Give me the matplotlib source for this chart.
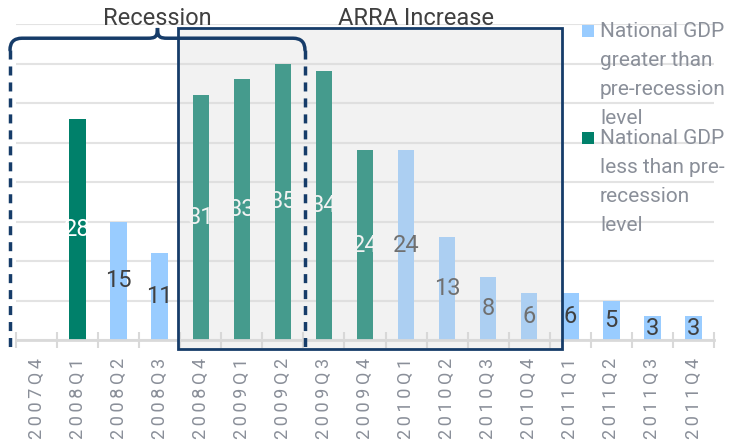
import numpy as np
import matplotlib.pyplot as plt
from matplotlib.patches import Rectangle, PathPatch
from matplotlib.path import Path
from matplotlib.transforms import Affine2D

plt.rcParams['font.family'] = ['Roboto', 'DejaVu Sans']

quarters = ['2007Q4', '2008Q1', '2008Q2', '2008Q3', '2008Q4', '2009Q1',
            '2009Q2', '2009Q3', '2009Q4', '2010Q1', '2010Q2', '2010Q3',
            '2010Q4', '2011Q1', '2011Q2', '2011Q3', '2011Q4']
values = [0, 28, 15, 11, 31, 33, 35, 34, 24, 24, 13, 8, 6, 6, 5, 3, 3]
# True -> national GDP still below the pre-recession level
below_pre = [False, True, False, False, True, True, True, True, True,
             False, False, False, False, False, False, False, False]
legend_labels = ['National GDP\ngreater than\npre-recession\nlevel',
                 'National GDP\nless than pre-\nrecession\nlevel']

GREEN = '#00806a'
BLUE = '#99ccff'
NAVY = '#163c69'
GRID = '#e3e3e3'
TICK_GRAY = '#8a8f99'
W, H = 730, 444

fig = plt.figure(figsize=(W / 100, H / 100), dpi=100)
ax = fig.add_axes([16 / W, 104 / H, 698 / W, 316 / H])
# pixel coords measured from the top-left corner of the figure
px = Affine2D().scale(1 / W, -1 / H).translate(0, 1) + fig.transFigure

x = np.arange(len(quarters))
colors = [GREEN if b else BLUE for b in below_pre]
ax.bar(x, values, width=0.4, color=colors, zorder=2)

for xi, v, b in zip(x, values, below_pre):
    if v == 0:
        continue
    ax.text(xi, v / 2, str(v), ha='center', va='center', fontsize=17,
            color='white' if b else '#404040', zorder=3)

ax.set_xlim(-0.5, len(quarters) - 0.5)
ax.set_ylim(0, 40)
ax.set_yticks(np.arange(0, 41, 5))
ax.yaxis.grid(True, color=GRID, lw=1.5, zorder=0)
ax.set_axisbelow(True)
ax.tick_params(axis='y', length=0, labelleft=False)
for s in ['top', 'right', 'left']:
    ax.spines[s].set_visible(False)
ax.spines['bottom'].set_color('#d9d9d9')
ax.spines['bottom'].set_linewidth(2)

ax.set_xticks(x)
# the source spreads the letters of the quarter labels a bit
ax.set_xticklabels(['\u2009'.join(q) for q in quarters], rotation=90,
                   fontsize=13, color=TICK_GRAY)
ax.set_xticks(np.arange(-0.5, len(quarters), 1), minor=True)
ax.tick_params(axis='x', which='major', length=0, pad=13)
ax.tick_params(axis='x', which='minor', direction='inout', length=11,
               width=1.5, color='#d9d9d9')

# ARRA box: translucent grey wash over the bars + navy outline
box_x0, box_x1, box_y0, box_y1 = 3.45, 12.8, -1.1, 39.5
ax.add_patch(Rectangle((box_x0, box_y0), box_x1 - box_x0, box_y1 - box_y0,
                       facecolor='#d7d7d7', alpha=0.32, edgecolor='none',
                       zorder=4, clip_on=False))
ax.add_patch(Rectangle((box_x0, box_y0), box_x1 - box_x0, box_y1 - box_y0,
                       facecolor='none', edgecolor=NAVY, lw=2,
                       zorder=5, clip_on=False))
ax.text(9.24, 39.87, 'ARRA Increase', ha='center', va='baseline',
        fontsize=17, color='#404040', zorder=6)

# Recession bracket
xl, xr, ytop, ytip, ybot = -0.646, 6.538, 38.2, 39.5, -1.0
xm = (xl + xr) / 2
rx, ry = 0.29, 1.5
verts = [(xl, ytop - ry), (xl, ytop), (xl + rx, ytop),
         (xm - 0.25, ytop),
         (xm - 0.05, ytop), (xm, ytop + 0.15), (xm, ytip),
         (xm, ytop + 0.15), (xm + 0.05, ytop), (xm + 0.25, ytop),
         (xr - rx, ytop), (xr, ytop), (xr, ytop - ry)]
codes = [Path.MOVETO, Path.CURVE3, Path.CURVE3,
         Path.LINETO,
         Path.CURVE4, Path.CURVE4, Path.CURVE4,
         Path.CURVE4, Path.CURVE4, Path.CURVE4,
         Path.LINETO, Path.CURVE3, Path.CURVE3]
ax.add_patch(PathPatch(Path(verts, codes), facecolor='none', edgecolor=NAVY,
                       lw=2.5, zorder=6, clip_on=False, capstyle='round'))
for xx in [xl, xr]:
    ax.plot([xx, xx], [ytop - ry, ybot], color=NAVY, lw=2.5,
            dashes=(2.6, 2.0), zorder=6, clip_on=False)
ax.text(xm, 39.87, 'Recession', ha='center', va='baseline', fontsize=17,
        color='#404040', zorder=7)

# legend drawn by hand to the right, over the grid
for i, (lab, col) in enumerate(zip(legend_labels, [BLUE, GREEN])):
    base = 37 + i * 107
    fig.patches.append(Rectangle((582, base - 12), 12, 12, facecolor=col,
                                 edgecolor='none', transform=px))
    fig.text(600, base - 15, lab, transform=px, ha='left', va='top',
             fontsize=15, color=TICK_GRAY, linespacing=1.67)

fig.savefig('out.png', dpi=100)
